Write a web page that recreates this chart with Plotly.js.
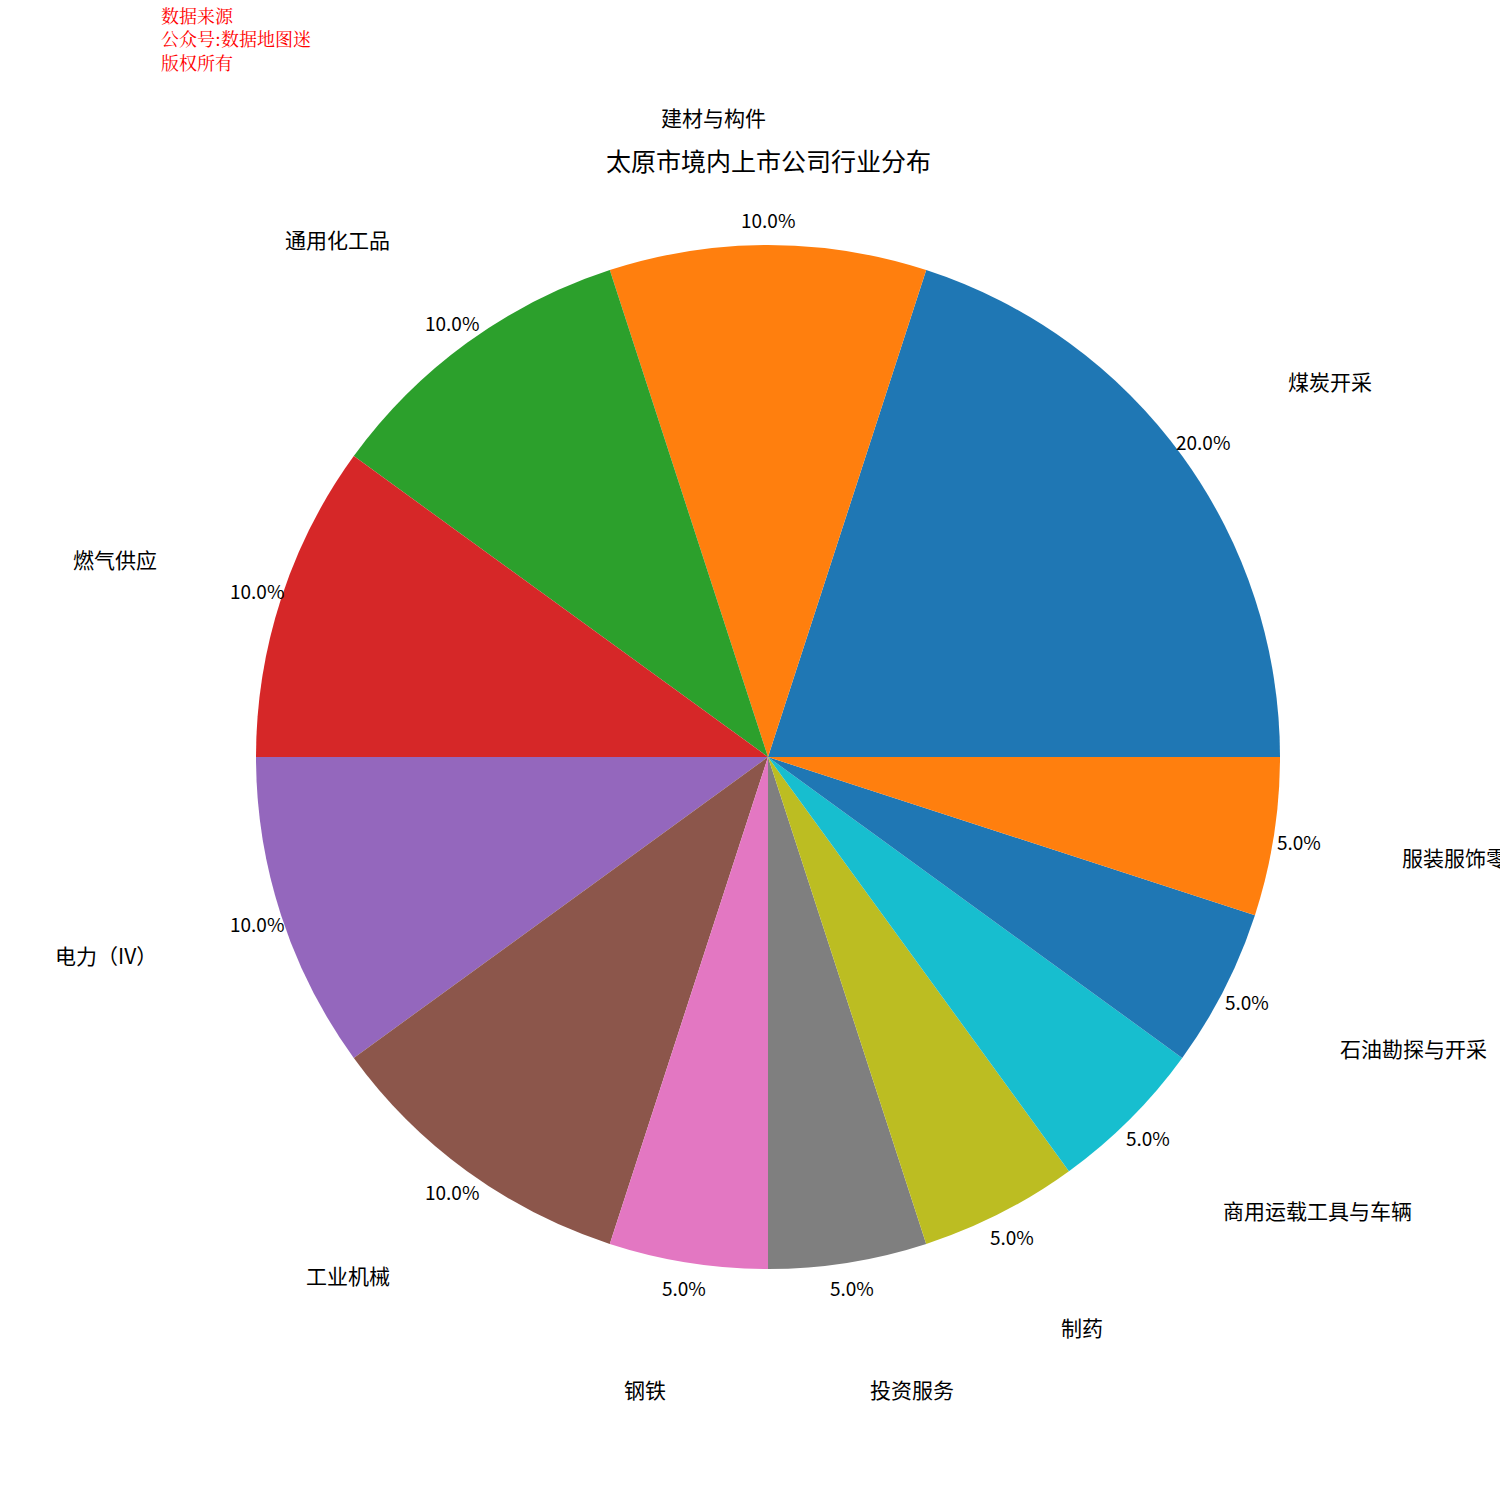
<!DOCTYPE html>
<html>
<head>
<meta charset="utf-8">
<script src="https://cdn.plot.ly/plotly-3.0.1.min.js"></script>
<style>html,body{margin:0;padding:0;background:#fff;}</style>
</head>
<body>
<div id="chart" style="width:1500px;height:1500px;"></div>
<script>
const industries = ["煤炭开采","建材与构件","通用化工品","燃气供应","电力（IV）","工业机械","钢铁","投资服务","制药","商用运载工具与车辆","石油勘探与开采","服装服饰零售"];
const shares = [20, 10, 10, 10, 10, 10, 5, 5, 5, 5, 5, 5];
const colors = ["#1f77b4","#ff7f0e","#2ca02c","#d62728","#9467bd","#8c564b","#e377c2","#7f7f7f","#bcbd22","#17becf","#1f77b4","#ff7f0e"];
const titleText = "太原市境内上市公司行业分布";
const sourceLines = ["数据来源", "公众号:数据地图迷", "版权所有"];

const W = 1500, H = 1500;
const cx = 768, cy = 757, R = 512;
const font = "Noto Sans CJK SC, sans-serif";

const total = shares.reduce((a, b) => a + b, 0);
const annotations = [];
let start = 0;
shares.forEach((v, i) => {
  const frac = v / total;
  const mid = (start + frac / 2) * 2 * Math.PI;
  start += frac;
  const c = Math.cos(mid), s = Math.sin(mid);
  const lx = cx + 1.25 * R * c, ly = cy - 1.25 * R * s;
  annotations.push({
    text: industries[i], xref: "paper", yref: "paper",
    x: lx / W, y: 1 - ly / H,
    xanchor: c > 1e-9 ? "left" : "right", yanchor: "middle",
    showarrow: false, font: {family: font, size: 21, color: "#000"}
  });
  const px = cx + 1.05 * R * c, py = cy - 1.05 * R * s;
  annotations.push({
    text: (frac * 100).toFixed(1) + "%", xref: "paper", yref: "paper",
    x: px / W, y: 1 - py / H,
    xanchor: "center", yanchor: "middle",
    showarrow: false, font: {family: font, size: 19, color: "#000"}
  });
});

annotations.push({
  text: titleText, xref: "paper", yref: "paper",
  x: cx / W, y: 1 - 160 / H, xanchor: "center", yanchor: "middle",
  showarrow: false, font: {family: font, size: 25, color: "#000"}
});
annotations.push({
  text: sourceLines.join("<br>"), xref: "paper", yref: "paper",
  x: 160 / W, y: 1 - 1 / H, xanchor: "left", yanchor: "top", align: "left",
  borderpad: 0,
  showarrow: false, font: {family: "Noto Serif CJK SC, serif", size: 18, color: "#ff0000"}
});

const data = [{
  type: "pie",
  labels: industries,
  values: shares,
  sort: false,
  direction: "counterclockwise",
  rotation: 90 - shares[0] / total * 360,
  textinfo: "none",
  hoverinfo: "none",
  marker: {colors: colors, line: {width: 0}},
  domain: {x: [(cx - R) / W, (cx + R) / W], y: [1 - (cy + R) / H, 1 - (cy - R) / H]},
  showlegend: false
}];

const layout = {
  width: W, height: H,
  margin: {l: 0, r: 0, t: 0, b: 0},
  paper_bgcolor: "#fff",
  showlegend: false,
  annotations: annotations
};

Plotly.newPlot("chart", data, layout, {displayModeBar: false, staticPlot: true});
</script>
</body>
</html>
